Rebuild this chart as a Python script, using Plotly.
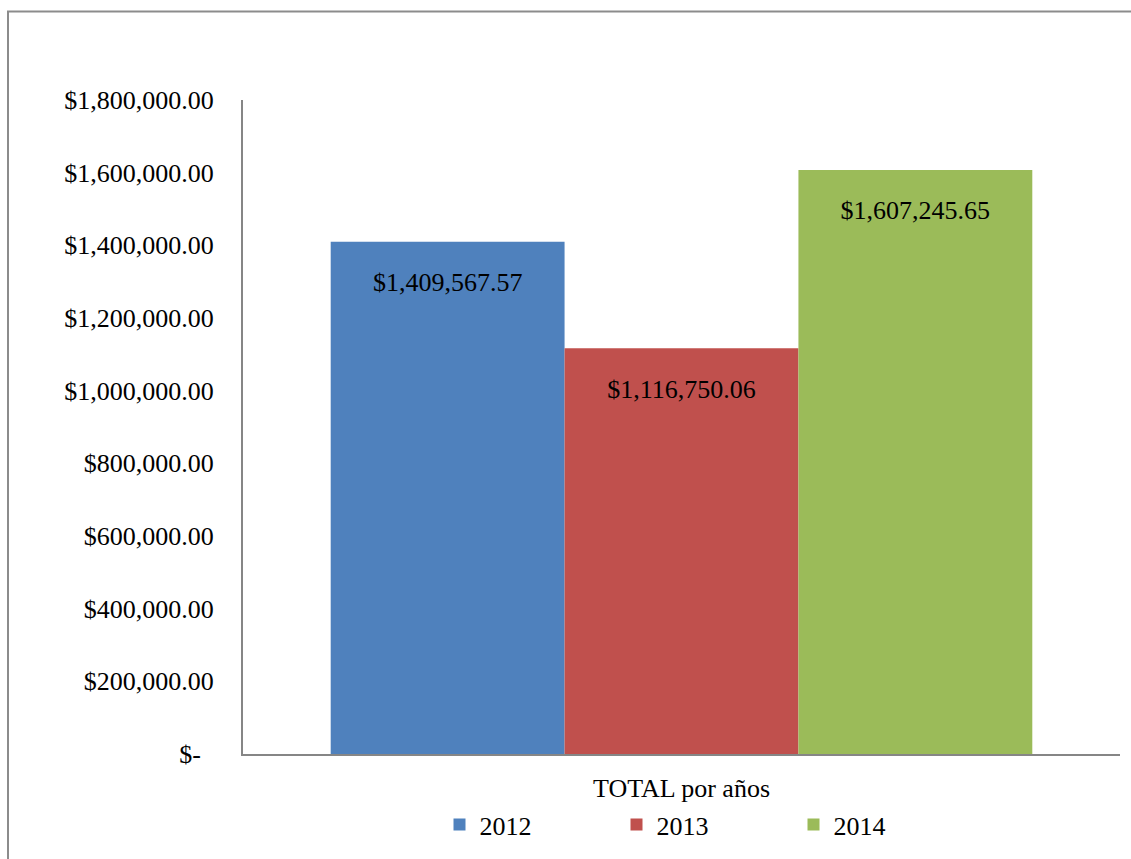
import plotly.graph_objects as go

# Data
category = ["TOTAL por años"]
years = ["2012", "2013", "2014"]
totals = [1409567.57, 1116750.06, 1607245.65]
colors = ["#4F81BD", "#C0504D", "#9BBB59"]

tick_vals = [0, 200000, 400000, 600000, 800000, 1000000, 1200000, 1400000, 1600000, 1800000]
tick_labels = ["$-\u00a0\u00a0", "$200,000.00", "$400,000.00", "$600,000.00", "$800,000.00",
               "$1,000,000.00", "$1,200,000.00", "$1,400,000.00", "$1,600,000.00", "$1,800,000.00"]

W, H = 1131, 859
ML, MR, MT, MB = 243, 11, 100, 102
FONT = "Liberation Serif"
FS = 26

fig = go.Figure()
for year, val, col in zip(years, totals, colors):
    fig.add_trace(go.Bar(
        name=year,
        x=category,
        y=[val],
        marker=dict(color=col, line=dict(width=0)),
        text=[f"${val:,.2f}"],
        # blank first line keeps the value label a little below the bar top
        texttemplate=f"\u00a0<br><span style='font-size:{FS}px'>%{{text}}</span>",
        textposition="inside",
        insidetextanchor="end",
        textfont=dict(family=FONT, size=21, color="black"),
        hoverinfo="skip",
    ))

pw = W - ML - MR
ph = H - MT - MB

def px_x(px):
    return (px - ML) / pw

def px_y(py):
    return (H - MB - py) / ph

fig.update_layout(
    width=W, height=H,
    margin=dict(l=ML, r=MR, t=MT, b=MB),
    paper_bgcolor="white",
    plot_bgcolor="white",
    barmode="group",
    bargap=0.2,
    bargroupgap=0,
    font=dict(family=FONT, size=FS, color="black"),
    showlegend=True,
    legend=dict(
        orientation="h",
        x=px_x(705), xanchor="center",
        y=px_y(828), yanchor="middle",
        entrywidth=132,
        font=dict(family=FONT, size=FS, color="black"),
        bgcolor="rgba(0,0,0,0)",
    ),
    xaxis=dict(
        showline=True, linecolor="#868686", linewidth=2,
        showgrid=False, ticks="", ticklabelstandoff=10,
        tickfont=dict(family=FONT, size=FS, color="black"),
        fixedrange=True,
    ),
    yaxis=dict(
        range=[0, 1800000],
        tickvals=tick_vals, ticktext=tick_labels,
        showline=True, linecolor="#868686", linewidth=2,
        showgrid=False, zeroline=False, ticks="", ticklabelstandoff=22,
        tickfont=dict(family=FONT, size=FS, color="black"),
        fixedrange=True,
    ),
    shapes=[dict(
        type="rect", xref="paper", yref="paper",
        x0=px_x(8), x1=px_x(W + 20), y0=px_y(H + 20), y1=px_y(11),
        line=dict(color="#8C8C8C", width=2), fillcolor="rgba(0,0,0,0)",
        layer="below",
    )],
)

fig.write_html("out.html")
